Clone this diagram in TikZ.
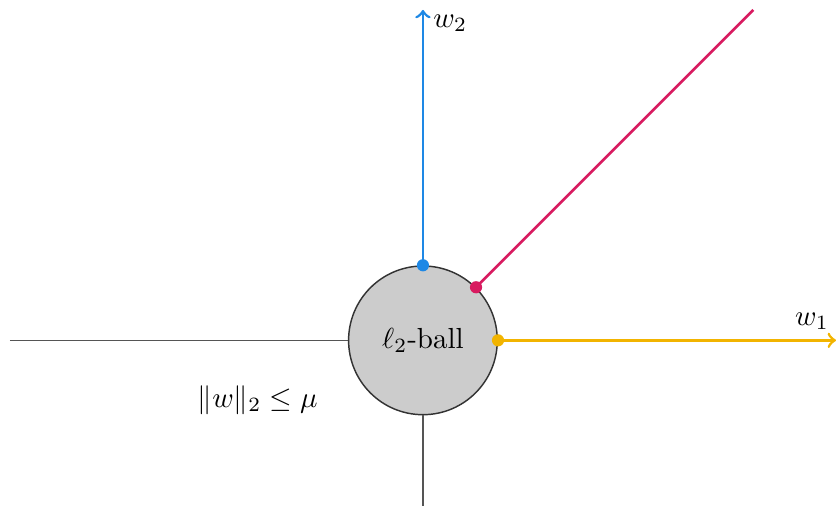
\documentclass[tikz,border=0pt]{standalone}
\usepackage{amsmath}
\definecolor{cblue}{HTML}{1E88E5}
\definecolor{cred}{HTML}{D81B60}
\definecolor{cyellow}{HTML}{F2B400}
\definecolor{caxis}{HTML}{555555}
\begin{document}
\begin{tikzpicture}[
  axisline/.style={draw=caxis, line width=0.55pt},
  colline/.style={line width=0.95pt},
  dotmark/.style={circle, fill, inner sep=0pt, minimum size=4.2pt},
  ballnode/.style={circle, draw=black!80, fill=black!20, line width=0.5pt, minimum size=1.8cm, inner sep=0pt}
]
\useasboundingbox (-5.12,-2.03) rectangle (5.0,4.12);
\node[ballnode] (ball) at (0,0) {$\ell_2$-ball};
\coordinate (L) at (-5,0);
\coordinate (B) at (0,-2);
\coordinate (T) at (0,4);
\coordinate (R) at (5,0);
\coordinate (D) at (4,4);
\draw[axisline] (L) -- (ball.west);
\draw[axisline] (ball.south) -- (B);
\draw[colline, cblue, ->] (ball.north) -- (T);
\draw[colline, cyellow, ->] (ball.east) -- (R);
\draw[colline, cred] (ball.45) -- (D);
\node[dotmark, cblue] (pb) at (ball.north) {};
\node[dotmark, cred] (pr) at (ball.45) {};
\node[dotmark, cyellow] (py) at (ball.east) {};
\node (w2) at (0.33,3.84) {$w_2$};
\node (w1) at (4.71,0.23) {$w_1$};
\node (con) at (-2.0,-0.72) {$\|w\|_2 \leq \mu$};
\end{tikzpicture}
\end{document}
